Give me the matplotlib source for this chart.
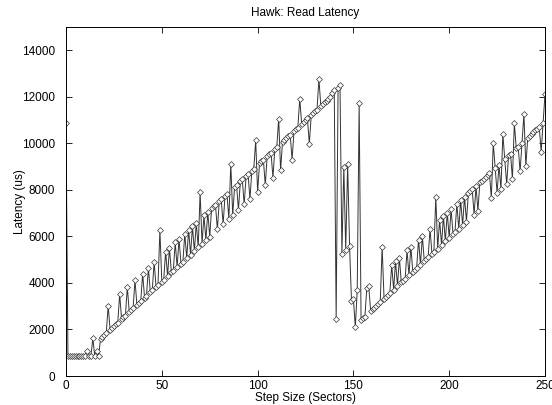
import matplotlib
matplotlib.use("Agg")
import matplotlib.pyplot as plt

plt.rcParams["font.family"] = ["Liberation Sans", "DejaVu Sans"]

# 步长 (扇区) 与读延迟 (微秒)
step_size = list(range(0, 251))
latency = [
    10870, 850, 840, 850, 860, 850, 850, 840, 850, 860,
    850, 1090, 850, 860, 1620, 850, 1090, 860, 1580, 1680,
    1750, 1830, 3030, 1990, 2060, 2140, 2220, 2290, 3510, 2450,
    2520, 2600, 3820, 2760, 2830, 2910, 4120, 3060, 3140, 3220,
    4400, 3370, 3450, 4660, 3600, 3680, 4890, 3830, 3910, 6260,
    4060, 4140, 5350, 4300, 5500, 4450, 4530, 5740, 4680, 5890,
    4830, 4910, 6120, 5070, 6280, 5220, 6430, 5370, 6580, 5530,
    7890, 5680, 6900, 5840, 7050, 5990, 7210, 7290, 7360, 6300,
    7520, 7600, 6530, 7750, 7830, 6760, 9130, 6910, 8140, 8220,
    7140, 8370, 8450, 7380, 8600, 8680, 7610, 8830, 8910, 10130,
    7910, 9140, 9220, 9300, 8220, 9450, 9530, 9600, 8530, 9760,
    9830, 11060, 8840, 10060, 10140, 10220, 10300, 10370, 9300, 10530,
    10600, 10680, 11910, 10840, 10910, 10990, 11070, 9990, 11220, 11300,
    11370, 11450, 12760, 11600, 11680, 11760, 11840, 11910, 11990, 12150,
    12300, 2450, 12380, 12520, 5250, 8980, 5430, 9120, 5570, 3230,
    3300, 2100, 3700, 11750, 2400, 2480, 2550, 3780, 3860, 2790,
    2860, 2940, 3020, 3090, 3170, 5550, 3320, 3400, 3480, 3560,
    4780, 3710, 4940, 3860, 5090, 4020, 4090, 4170, 5400, 4330,
    5550, 4480, 4560, 4630, 5860, 4790, 6010, 4940, 5020, 5100,
    6320, 5250, 5330, 7700, 5480, 6710, 5630, 6860, 5790, 7020,
    5940, 7170, 6100, 6170, 7400, 6330, 7550, 6480, 7710, 6640,
    7860, 7940, 8020, 6940, 8170, 7100, 8320, 8400, 8480, 8560,
    8630, 8710, 7640, 10010, 8940, 7870, 9090, 8020, 10400, 9330,
    8250, 9480, 9560, 8480, 10860, 9790, 9860, 8790, 10020, 11250,
    9020, 10250, 10330, 10400, 10480, 10560, 10630, 10710, 9640, 10870,
    12100,
]

x_ticks = [0, 50, 100, 150, 200, 250]
y_ticks = [0, 2000, 4000, 6000, 8000, 10000, 12000, 14000]


def main():
    fig = plt.figure(figsize=(5.52, 4.05), dpi=100)
    ax = fig.add_axes([0.1196, 0.0716, 0.8677, 0.8617])

    ax.plot(step_size, latency, color="#333333", linewidth=0.7,
            marker="D", markersize=3.0, markerfacecolor="white",
            markeredgecolor="#333333", markeredgewidth=0.5)

    ax.set_xlim(0, 250)
    ax.set_ylim(0, 15000)
    ax.set_xticks(x_ticks)
    ax.set_yticks(y_ticks)
    ax.tick_params(direction="in", length=4, width=0.6, labelsize=8.5,
                   top=True, right=True)
    ax.tick_params(axis="y", pad=8)
    ax.tick_params(axis="x", pad=3)
    for sp in ax.spines.values():
        sp.set_linewidth(0.7)

    ax.set_title("Hawk: Read Latency", fontsize=8.5, pad=8)
    ax.set_xlabel("Step Size (Sectors)", fontsize=8.5, labelpad=0)
    ax.set_ylabel("Latency (us)", fontsize=8.5, labelpad=-3)

    fig.savefig("out.png", dpi=100)


if __name__ == '__main__':
    main()
